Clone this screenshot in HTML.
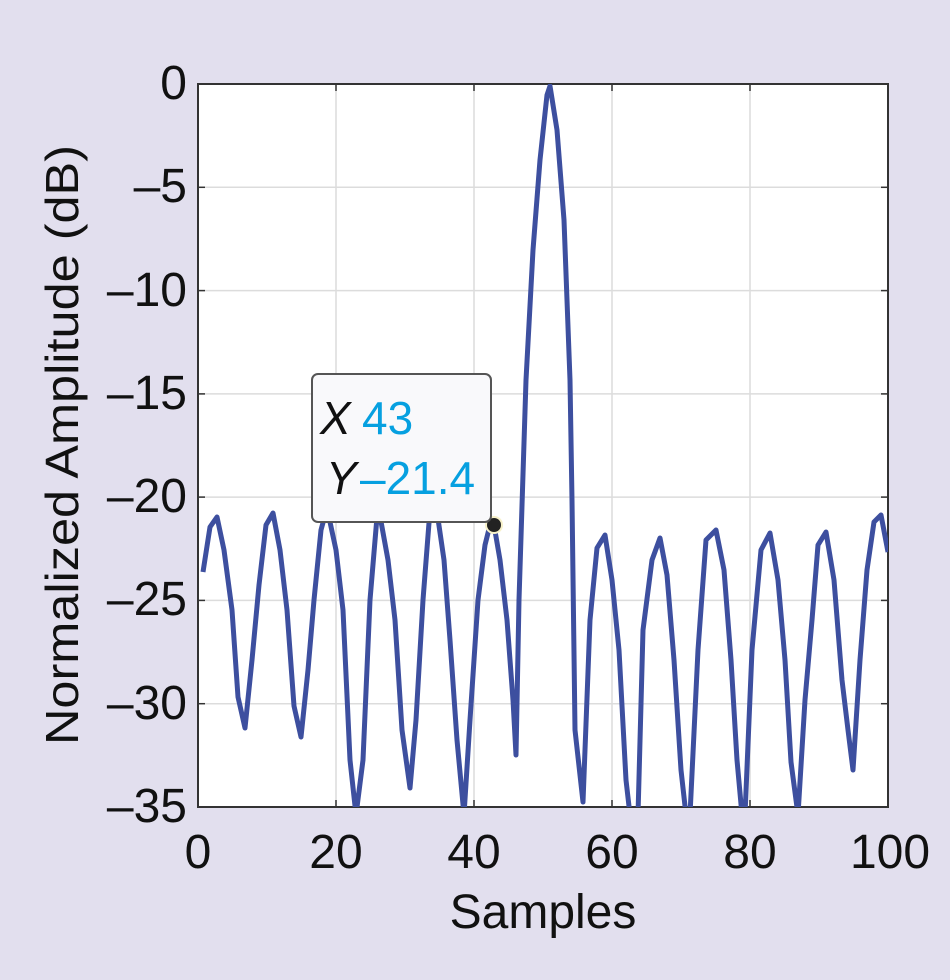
<!DOCTYPE html>
<html><head><meta charset="utf-8"><style>
html,body{margin:0;padding:0;background:#e2dfee;}
svg{display:block;font-family:"Liberation Sans",Arial,sans-serif;}
</style></head><body>
<svg width="950" height="980" viewBox="0 0 950 980">
<rect width="950" height="980" fill="#e2dfee"/>
<rect x="198" y="84" width="690" height="723" fill="#fff"/>
<g stroke="#dcdcdc" stroke-width="1.5">
<line x1="336" y1="84" x2="336" y2="807"/><line x1="474" y1="84" x2="474" y2="807"/>
<line x1="612" y1="84" x2="612" y2="807"/><line x1="750" y1="84" x2="750" y2="807"/>
<line x1="198" y1="187.3" x2="888" y2="187.3"/><line x1="198" y1="290.6" x2="888" y2="290.6"/>
<line x1="198" y1="393.9" x2="888" y2="393.9"/><line x1="198" y1="497.1" x2="888" y2="497.1"/>
<line x1="198" y1="600.4" x2="888" y2="600.4"/><line x1="198" y1="703.7" x2="888" y2="703.7"/>
</g>
<g stroke="#333" stroke-width="1.5">
<line x1="336" y1="807" x2="336" y2="800"/><line x1="474" y1="807" x2="474" y2="800"/>
<line x1="612" y1="807" x2="612" y2="800"/><line x1="750" y1="807" x2="750" y2="800"/>
<line x1="336" y1="84" x2="336" y2="91"/><line x1="474" y1="84" x2="474" y2="91"/>
<line x1="612" y1="84" x2="612" y2="91"/><line x1="750" y1="84" x2="750" y2="91"/>
<line x1="198" y1="187.3" x2="205" y2="187.3"/><line x1="198" y1="290.6" x2="205" y2="290.6"/>
<line x1="198" y1="393.9" x2="205" y2="393.9"/><line x1="198" y1="497.1" x2="205" y2="497.1"/>
<line x1="198" y1="600.4" x2="205" y2="600.4"/><line x1="198" y1="703.7" x2="205" y2="703.7"/>
<line x1="888" y1="187.3" x2="881" y2="187.3"/><line x1="888" y1="290.6" x2="881" y2="290.6"/>
<line x1="888" y1="393.9" x2="881" y2="393.9"/><line x1="888" y1="497.1" x2="881" y2="497.1"/>
<line x1="888" y1="600.4" x2="881" y2="600.4"/><line x1="888" y1="703.7" x2="881" y2="703.7"/>
</g>
<rect x="198" y="84" width="690" height="723" fill="none" stroke="#333" stroke-width="2"/>
<defs><clipPath id="c"><rect x="198" y="84" width="690" height="723"/></clipPath></defs>
<polyline clip-path="url(#c)" fill="none" stroke="#3d4f9f" stroke-width="5" stroke-linejoin="round" points="203,572 210,527 217,517 224,550 232,610 238,697 245,728 252,660 259,585 266,525 273,513 280,550 287,610 294,706 301,737 308,670 314,600 321,530 327,508 336,550 343,610 350,760 356,815 363,760 370,600 378,505 388,560 395,620 402,730 410,788 416,720 423,600 430,510 436,505 444,560 450,640 457,740 464,815 470,720 478,600 485,545 490,525 494,525 500,560 507,620 513,700 516,755 519,600 526,380 533,250 540,160 547,95 550,86 557,130 564,220 570,380 572,500 575,730 583,802 590,620 597,548 605,535 612,580 619,650 626,780 630,815 638,815 643,630 652,560 660,538 667,575 674,660 681,770 686,815 690,815 698,650 706,540 716,530 724,570 731,660 737,760 742,815 745,815 752,650 761,550 770,533 778,580 785,660 791,762 798,815 805,700 812,620 818,545 826,532 834,580 842,680 848,730 853,770 860,660 867,570 874,522 881,515 888,552"/>
<circle cx="494" cy="525" r="9" fill="#f6f0c8"/>
<circle cx="494" cy="525" r="7" fill="#222"/>
<rect x="312" y="374" width="179" height="148" rx="6" fill="#f9f9fb" stroke="#555" stroke-width="2"/>
<text x="320" y="434" font-size="46" font-style="italic" fill="#111">X</text>
<text x="362" y="434" font-size="46" fill="#06a0e0">43</text>
<text x="326" y="494" font-size="46" font-style="italic" fill="#111">Y</text>
<text x="360" y="494" font-size="46" fill="#06a0e0">–21.4</text>
<g font-size="48" fill="#111" text-anchor="end">
<text x="187" y="99">0</text>
<text x="187" y="202">–5</text>
<text x="187" y="306">–10</text>
<text x="187" y="409">–15</text>
<text x="187" y="512">–20</text>
<text x="187" y="615">–25</text>
<text x="187" y="719">–30</text>
<text x="187" y="822">–35</text>
</g>
<g font-size="48" fill="#111" text-anchor="middle">
<text x="198" y="868">0</text>
<text x="336" y="868">20</text>
<text x="474" y="868">40</text>
<text x="612" y="868">60</text>
<text x="750" y="868">80</text>
<text x="890" y="868">100</text>
</g>
<text x="543" y="928" font-size="48" fill="#111" text-anchor="middle">Samples</text>
<text transform="translate(78,445) rotate(-90)" font-size="46" fill="#111" text-anchor="middle" textLength="600" lengthAdjust="spacingAndGlyphs">Normalized Amplitude (dB)</text>
</svg>
</body></html>
